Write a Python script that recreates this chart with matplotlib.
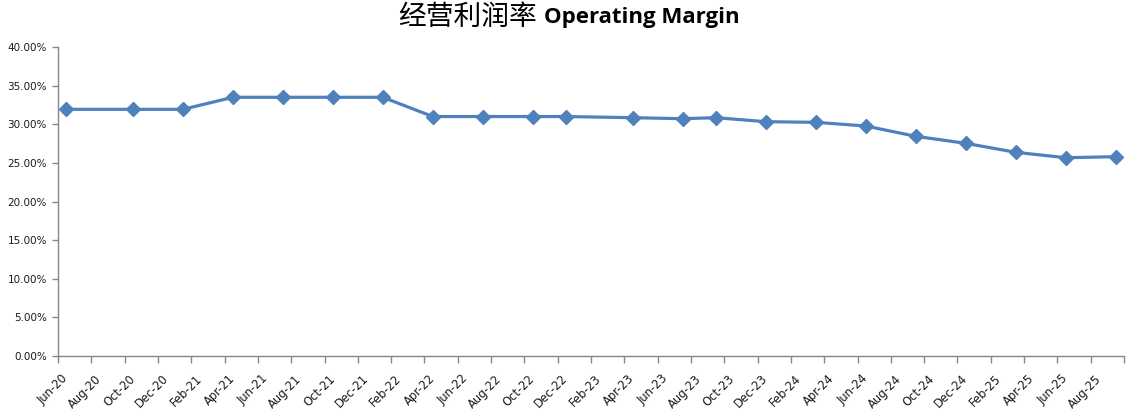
import matplotlib
matplotlib.use("Agg")
import matplotlib.pyplot as plt
from matplotlib.ticker import FuncFormatter

# Data: month offsets from Jun-20 and operating margin (%)
month_offsets = [0, 4, 7, 10, 13, 16, 19, 22, 25, 28, 30, 34, 37, 39, 42, 45, 48, 51, 54, 57, 60, 63]
margin_pct = [31.93, 31.93, 31.93, 33.49, 33.49, 33.49, 33.49, 31.0, 31.0, 31.0, 31.0,
              30.85, 30.72, 30.85, 30.33, 30.25, 29.77, 28.44, 27.53, 26.37, 25.67, 25.8]
tick_labels = ["Jun-20", "Aug-20", "Oct-20", "Dec-20",
               "Feb-21", "Apr-21", "Jun-21", "Aug-21", "Oct-21", "Dec-21",
               "Feb-22", "Apr-22", "Jun-22", "Aug-22", "Oct-22", "Dec-22",
               "Feb-23", "Apr-23", "Jun-23", "Aug-23", "Oct-23", "Dec-23",
               "Feb-24", "Apr-24", "Jun-24", "Aug-24", "Oct-24", "Dec-24",
               "Feb-25", "Apr-25", "Jun-25", "Aug-25"]
n_months = 64

fig = plt.figure(figsize=(11.33, 4.13), dpi=100)
ax = fig.add_axes([58/1133, 1-356/413, (1124-58)/1133, (356-47)/413])

xs = [m + 0.5 for m in month_offsets]
ax.plot(xs, margin_pct, color="#4F81BD", linewidth=2.3, marker="D", markersize=7,
        markerfacecolor="#4F81BD", markeredgecolor="#4F81BD", clip_on=False, zorder=3)

ax.set_xlim(0, n_months)
ax.set_ylim(0, 40)
ax.set_yticks(range(0, 41, 5))
ax.yaxis.set_major_formatter(FuncFormatter(lambda v, p: f"{v:.2f}%"))

ax.set_xticks(range(0, n_months + 1, 2))
ax.set_xticklabels([])
centers = [2*k + 0.5 for k in range(len(tick_labels))]
ax.set_xticks(centers, minor=True)
ax.set_xticklabels(tick_labels, minor=True, rotation=45, ha="right", va="center",
                   rotation_mode="anchor", fontsize=8.3, color="#1a1a1a")
ax.tick_params(axis="x", which="minor", length=0, pad=15)
ax.tick_params(axis="x", which="major", length=5, width=1, color="#868686", direction="out")
ax.tick_params(axis="y", length=4, width=1, color="#868686", labelsize=7.5,
               labelcolor="#1a1a1a", pad=4)

for s in ["top", "right"]:
    ax.spines[s].set_visible(False)
for s in ["left", "bottom"]:
    ax.spines[s].set_color("#868686")
    ax.spines[s].set_linewidth(1)

fig.text(537/1133, 1-17/413, "经营利润率", family=["Noto Sans CJK SC", "DejaVu Sans"],
         fontsize=20, ha="right", va="center", color="#000000")
fig.text(544/1133, 1-17/413, "Operating Margin", family=["Open Sans", "DejaVu Sans"],
         fontsize=16, fontweight="bold", ha="left", va="center", color="#000000")

fig.savefig("out.png", dpi=100)
